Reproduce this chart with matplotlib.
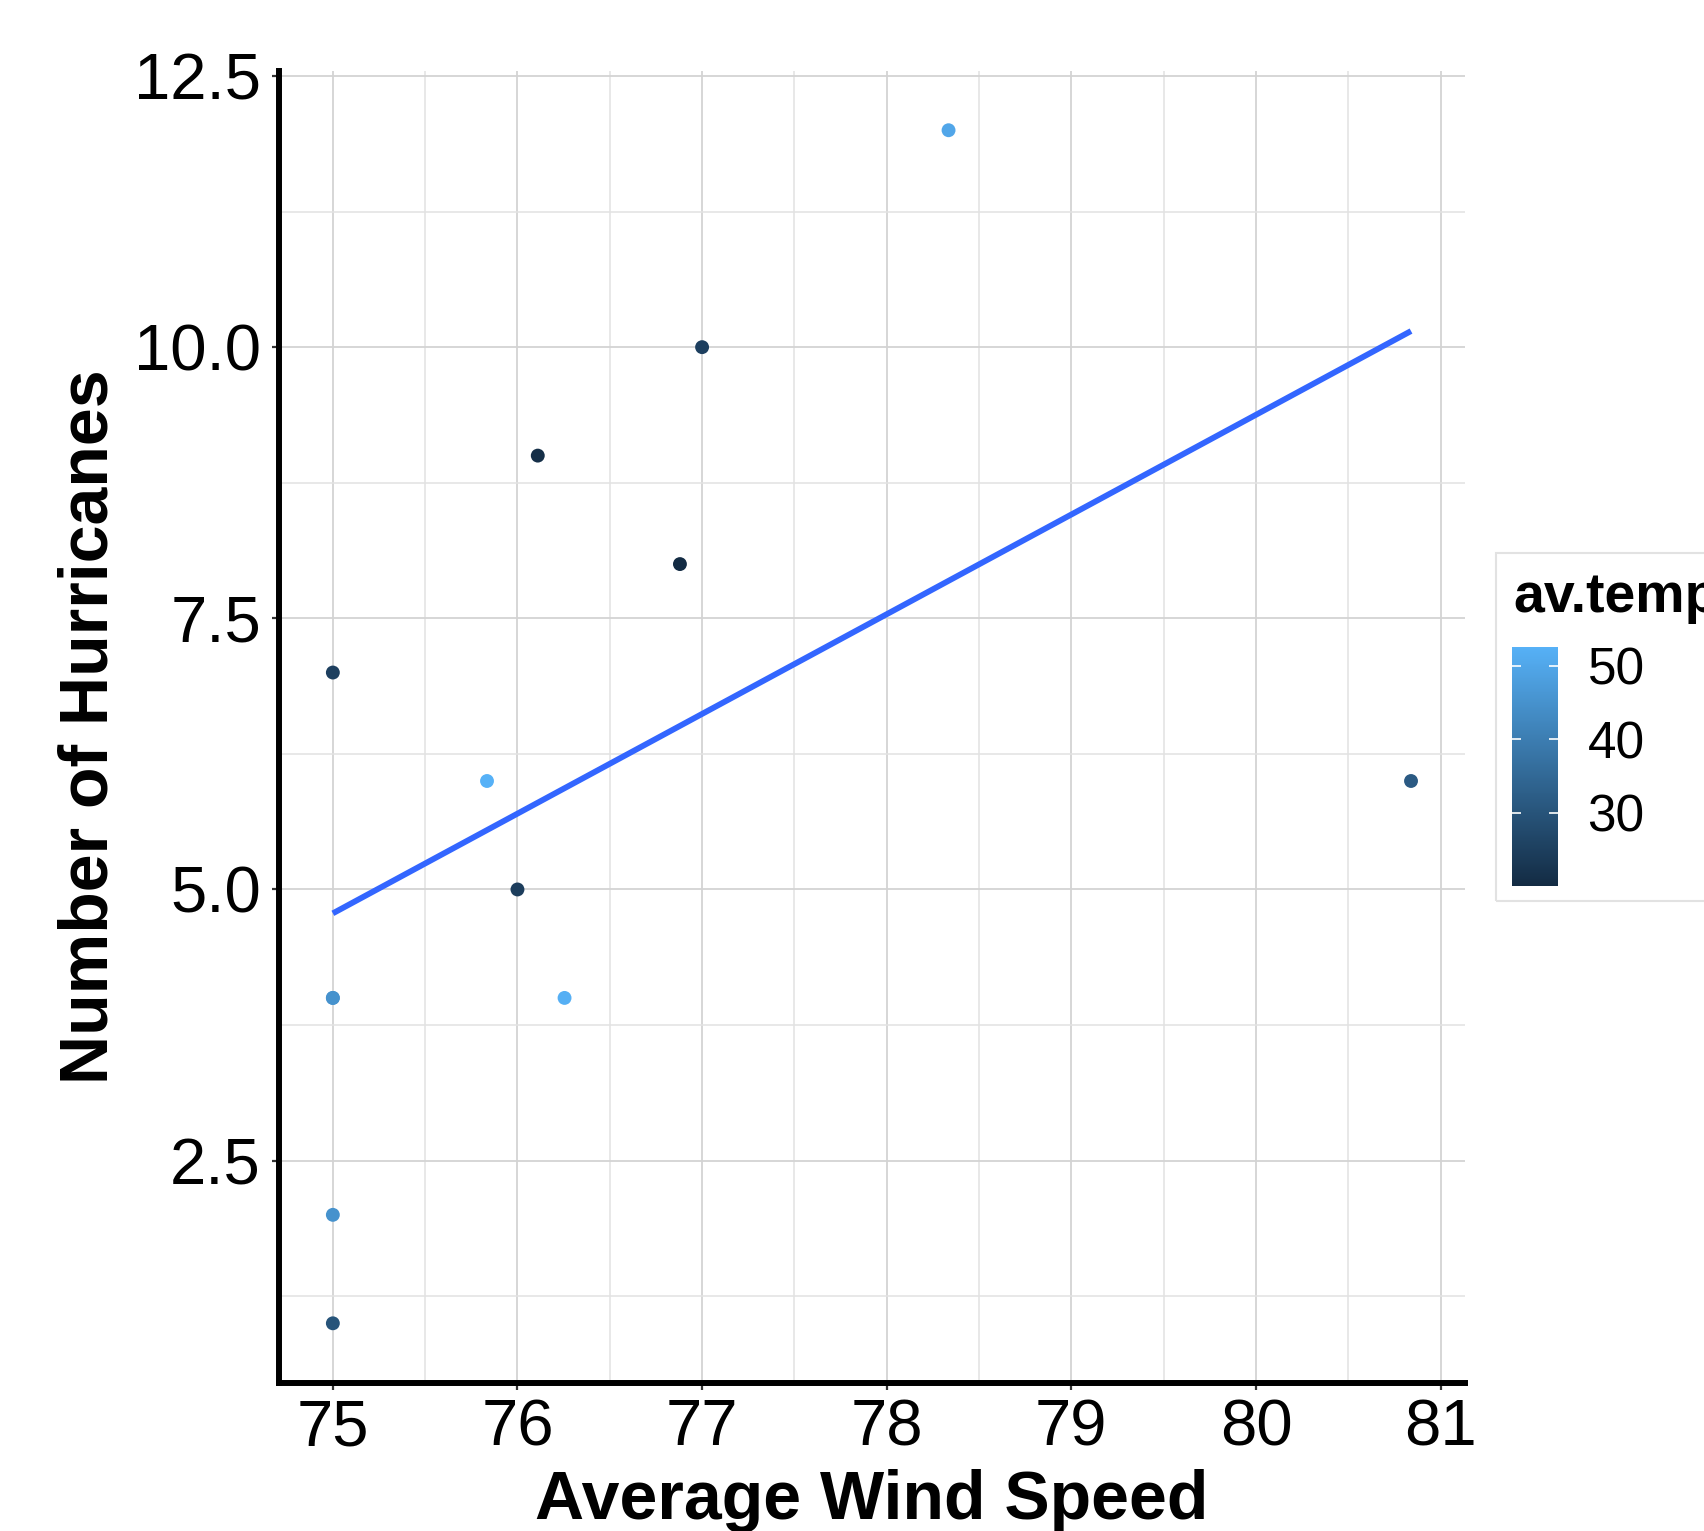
import numpy as np
import matplotlib.pyplot as plt
from matplotlib.colors import LinearSegmentedColormap, Normalize
from matplotlib.patches import Rectangle

plt.rcParams['font.family'] = ['Liberation Sans', 'DejaVu Sans']

# Datos
wind_speed = [75, 75, 75, 75, 75, 75.835, 76, 76.11, 76.255, 76.88, 77, 78.335, 80.84]
hurricanes = [7, 4, 4, 2, 1, 6, 5, 9, 4, 8, 10, 12, 6]
av_temp = [25, 46, 45, 45, 30, 52.6, 24.5, 21, 52, 20, 25, 50, 31.5]

x_ticks = [75, 76, 77, 78, 79, 80, 81]
y_ticks = [2.5, 5.0, 7.5, 10.0, 12.5]
temp_ticks = [30, 40, 50]

x = np.array(wind_speed)
y = np.array(hurricanes)
t = np.array(av_temp)

cmap = LinearSegmentedColormap.from_list("ggblue", ["#132B43", "#56B1F7"])
norm = Normalize(vmin=t.min(), vmax=t.max())

fig = plt.figure(figsize=(17.04, 15.31), dpi=100)

# Caja de la leyenda (detrás de todo)
fig.patches.append(Rectangle((0.878, 0.4115), 0.3, 0.2273, transform=fig.transFigure,
                             facecolor="none", edgecolor="#e2e2e2", linewidth=1.5,
                             zorder=-1))

ax = fig.add_axes([0.1637, 0.0967, 0.6960, 0.8572])

# Rejilla
ax.set_xticks(x_ticks)
ax.set_xticks(np.arange(75.5, 81, 1.0), minor=True)
ax.set_yticks(y_ticks)
ax.set_yticks([1.25, 3.75, 6.25, 8.75, 11.25], minor=True)
ax.grid(True, which="major", color="#d3d3d3", linewidth=1.3)
ax.grid(True, which="minor", color="#e2e2e2", linewidth=1.1)
ax.set_axisbelow(True)

# Puntos
ax.scatter(x, y, c=t, cmap=cmap, norm=norm, s=100, linewidths=0, zorder=3)

# Recta de regresión lineal
slope, intercept = np.polyfit(x, y, 1)
xs = np.array([x.min(), x.max()])
ax.plot(xs, intercept + slope * xs, color="#3366FF", linewidth=4.2, zorder=4,
        solid_capstyle="butt")

xr = x.max() - x.min()
yr = y.max() - y.min()
ax.set_xlim(x.min() - 0.05 * xr, x.max() + 0.05 * xr)
ax.set_ylim(y.min() - 0.05 * yr, y.max() + 0.05 * yr)

ax.set_yticklabels(["2.5", "5.0", "7.5", "10.0", "12.5"])
for s in ["top", "right"]:
    ax.spines[s].set_visible(False)
for s in ["left", "bottom"]:
    ax.spines[s].set_color("black")
    ax.spines[s].set_linewidth(4.3)
    ax.spines[s].set_capstyle("projecting")
ax.tick_params(which="major", length=5, width=1.6, color="#333333",
               labelsize=47, labelcolor="black")
ax.tick_params(axis="y", pad=8)
ax.tick_params(axis="x", pad=6)
ax.tick_params(which="minor", length=0)

ax.set_ylabel("Number of Hurricanes", fontsize=49, fontweight="bold", labelpad=9)
fig.text(0.5117, 0.0078, "Average Wind Speed", fontsize=49, fontweight="bold",
         ha="center", va="baseline")

# Leyenda (barra de color)
fig.text(0.888, 1 - 612 / 1531, "av.temp", fontsize=40, fontweight="bold",
         ha="left", va="baseline")
cax = fig.add_axes([0.8871, 0.4213, 0.02746, 0.1563])
sm = plt.cm.ScalarMappable(norm=norm, cmap=cmap)
cb = fig.colorbar(sm, cax=cax, ticks=temp_ticks)
cb.outline.set_visible(False)
cax.tick_params(axis="y", direction="in", left=True, right=True, color="white",
                length=6.5, width=1.2, labelsize=37, pad=21)

fig.savefig("out.png", dpi=100)
